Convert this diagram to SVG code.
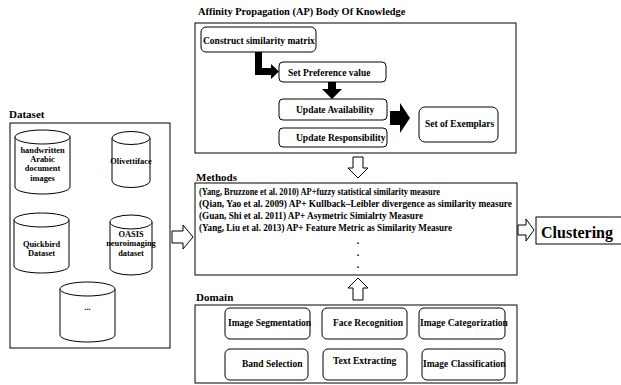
<svg xmlns="http://www.w3.org/2000/svg" width="621" height="385" viewBox="0 0 621 385">
<defs>
<style>
.hd{font-size:11px}
.ti{font-size:10.4px}
.t{font-size:9.5px}
.m{font-size:10px}
.c{font-size:8.4px;text-anchor:middle}
.box{fill:#fff;stroke:#000;stroke-width:1}
.rb{fill:#fff;stroke:#000;stroke-width:1}
.blk{fill:#000;stroke:none}
.hol{fill:#fff;stroke:#000;stroke-width:1}
.cyl{fill:#fff;stroke:#000;stroke-width:1}
</style>
</defs>
<rect x="0" y="0" width="621" height="385" fill="#fff"/>
<g font-family="'Liberation Serif', 'Times New Roman', serif" font-weight="bold" fill="#000">

<!-- AP body -->
<g id="ap">
<text class="ti" x="198" y="15">Affinity Propagation (AP) Body Of Knowledge</text>
<rect class="box" x="195" y="23" width="321" height="130"/>
</g>
<g id="construct"><rect class="rb" x="201" y="27" width="115" height="25" rx="5"/><text class="t" x="203" y="44">Construct similarity matrix</text></g>
<g id="preference"><rect class="rb" x="279" y="62" width="107" height="20" rx="4"/><text class="t" x="288" y="76">Set Preference value</text></g>
<g id="availability"><rect class="rb" x="279" y="99" width="108" height="21" rx="4"/><text class="t" x="296" y="113">Update Availability</text></g>
<g id="responsibility"><rect class="rb" x="279" y="128" width="108" height="19" rx="4"/><text class="t" x="296" y="141">Update Responsibility</text></g>
<g id="exemplars"><rect class="rb" x="419" y="107" width="79" height="35" rx="6"/><text class="t" x="425" y="127">Set of Exemplars</text></g>

<!-- Dataset -->
<g id="dataset">
<text class="hd" x="9" y="118">Dataset</text>
<rect class="box" x="10" y="123" width="160" height="225"/>
</g>
<g id="cyl-arabic">
<path class="cyl" d="M15,137 A27.5,7 0 0 1 70,137 L70,187 A27.5,7 0 0 1 15,187 Z"/>
<path class="cyl" fill="none" d="M15,137 A27.5,7 0 0 0 70,137"/>
<text class="c" x="42.5" y="153">handwritten</text><text class="c" x="42.5" y="162">Arabic</text><text class="c" x="42.5" y="171">document</text><text class="c" x="42.5" y="181">images</text>
</g>
<g id="cyl-olivetti">
<path class="cyl" d="M112,138 A19,6.5 0 0 1 150,138 L150,181 A19,6.5 0 0 1 112,181 Z"/>
<path class="cyl" fill="none" d="M112,138 A19,6.5 0 0 0 150,138"/>
<text class="c" x="131" y="164">Olivettiface</text>
</g>
<g id="cyl-quickbird">
<path class="cyl" d="M14,220 A27.5,7 0 0 1 69,220 L69,266 A27.5,7 0 0 1 14,266 Z"/>
<path class="cyl" fill="none" d="M14,220 A27.5,7 0 0 0 69,220"/>
<text class="c" x="41.5" y="247">Quickbird</text><text class="c" x="41.5" y="256">Dataset</text>
</g>
<g id="cyl-oasis">
<path class="cyl" d="M110,222 A21,7 0 0 1 152,222 L152,268 A21,7 0 0 1 110,268 Z"/>
<path class="cyl" fill="none" d="M110,222 A21,7 0 0 0 152,222"/>
<text class="c" x="131" y="237">OASIS</text><text class="c" x="131" y="246">neuroimaging</text><text class="c" x="131" y="256">dataset</text>
</g>
<g id="cyl-more">
<path class="cyl" d="M60,289 A27.5,7 0 0 1 115,289 L115,335 A27.5,7 0 0 1 60,335 Z"/>
<path class="cyl" fill="none" d="M60,289 A27.5,7 0 0 0 115,289"/>
<text class="c" x="87.5" y="310">...</text>
</g>

<!-- Methods -->
<g id="methods">
<text class="hd" x="196" y="181">Methods</text>
<rect class="box" x="195" y="183" width="322" height="92"/>
<text class="m" x="199" y="195" textLength="241" lengthAdjust="spacingAndGlyphs">(Yang, Bruzzone et al. 2010) AP+fuzzy statistical similarity  measure</text>
<text class="m" x="199" y="207" textLength="313" lengthAdjust="spacingAndGlyphs">(Qian, Yao et al. 2009) AP+ Kullback–Leibler divergence as similarity  measure</text>
<text class="m" x="199" y="219" textLength="224" lengthAdjust="spacingAndGlyphs">(Guan, Shi et al. 2011) AP+ Asymetric Simialrty  Measure</text>
<text class="m" x="199" y="231" textLength="253" lengthAdjust="spacingAndGlyphs">(Yang, Liu et al. 2013) AP+ Feature Metric  as Similarity  Measure</text>
<text class="m" x="358" y="244" text-anchor="middle">.</text>
<text class="m" x="358" y="256" text-anchor="middle">.</text>
<text class="m" x="358" y="268" text-anchor="middle">.</text>
</g>

<!-- Clustering -->
<g id="clustering">
<rect class="box" x="536" y="217" width="95" height="27"/>
<text x="541" y="238" font-size="16">Clustering</text>
</g>

<!-- Domain -->
<g id="domain">
<text class="hd" x="196" y="301">Domain</text>
<rect class="box" x="195" y="305" width="322" height="78"/>
</g>
<g id="d-seg"><rect class="rb" x="225" y="308" width="85" height="31" rx="5"/><text class="t" x="228" y="326">Image Segmentation</text></g>
<g id="d-face"><rect class="rb" x="322" y="308" width="85" height="31" rx="5"/><text class="t" x="333" y="326">Face Recognition</text></g>
<g id="d-cat"><rect class="rb" x="419" y="308" width="86" height="31" rx="5"/><text class="t" x="420" y="326" font-size="9.3">Image Categorization</text></g>
<g id="d-band"><rect class="rb" x="225" y="349" width="83" height="31" rx="5"/><text class="t" x="242" y="367">Band Selection</text></g>
<g id="d-text"><rect class="rb" x="323" y="349" width="84" height="31" rx="5"/><text class="t" x="333" y="364">Text Extracting</text></g>
<g id="d-class"><rect class="rb" x="422" y="349" width="83" height="31" rx="5"/><text class="t" x="423" y="367">Image Classification</text></g>
</g>

<!-- Connectors -->
<g id="connectors">
<polygon class="blk" points="255,52 262,52 262,68 271,68 271,64 279,71.5 271,79 271,75 255,75"/>
<polygon class="blk" points="328,82 336,82 336,89 342,89 332,99 322,89 328,89"/>
<polygon class="blk" points="390,111 400,111 400,103 410,118 400,133 400,125 390,125"/>
<polygon class="hol" points="353,157 363,157 363,168 368,168 358,178 348,168 353,168"/>
<polygon class="hol" points="353,300 363,300 363,288 368,288 358,278 348,288 353,288"/>
<polygon class="hol" points="172,231 183,231 183,225 193,237 183,249 183,243 172,243"/>
<polygon class="hol" points="518,225 526,225 526,219 534,230 526,241 526,235 518,235"/>
</g>
</svg>
